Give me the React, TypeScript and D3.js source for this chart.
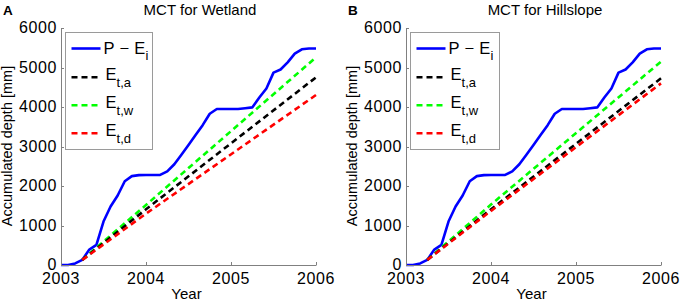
import React from 'react';
import * as d3 from 'd3';

// ---- data ----
const monthIndex = d3.range(37);
const pMinusEi = [0, 0, 40, 130, 390, 510, 1100, 1480, 1760, 2120, 2250, 2275, 2280, 2280, 2280, 2370, 2550, 2790, 3040, 3290, 3540, 3830, 3950, 3950, 3950, 3950, 3970, 3990, 4240, 4470, 4870, 4950, 5130, 5350, 5460, 5480, 5480];
const etYears = [2003.25, 2004, 2006];
const wetlandEtA = [130, 1410, 4750];
const wetlandEtW = [130, 1520, 5257];
const wetlandEtD = [130, 1300, 4304];
const hillEtA = [130, 1410, 4726];
const hillEtW = [130, 1530, 5148];
const hillEtD = [130, 1370, 4599];
const xTicks = [2003, 2004, 2005, 2006];
const yTicks = [0, 1000, 2000, 3000, 4000, 5000, 6000];

const FONT = '"Liberation Sans", Arial, Helvetica, sans-serif';

type PanelProps = {
  left: number;
  letter: string;
  title: string;
  titleX: number;
  etA: number[];
  etW: number[];
  etD: number[];
  legendW: number;
};

const TOP = 28;
const BOTTOM = 265;
const PW = 255;

function Panel({ left, letter, title, titleX, etA, etW, etD, legendW }: PanelProps) {
  const x = d3.scaleLinear().domain([2003, 2006]).range([left, left + PW]);
  const y = d3.scaleLinear().domain([0, 6000]).range([BOTTOM, TOP]);
  const line = d3.line<[number, number]>().x(d => x(d[0])).y(d => y(d[1]));
  const blue = line(monthIndex.map(i => [2003 + i / 12, pMinusEi[i]] as [number, number]));
  const mk = (vals: number[]) => line(etYears.map((t, i) => [t, vals[i]] as [number, number]));
  const dashes = [
    { d: mk(etW), c: '#00ff00' },
    { d: mk(etA), c: '#000000' },
    { d: mk(etD), c: '#ff0000' },
  ];
  const axisCol = '#808080';
  const lx = left + 4;
  const lsx1 = left + 10.5;
  const lsx2 = left + 39.5;
  const ltx = left + 42.5;
  const rows = [48.5, 77.3, 105.3, 133.3];
  const legendEntries = [
    { c: '#000000', main: 'E', sub: 't,a' },
    { c: '#00ff00', main: 'E', sub: 't,w' },
    { c: '#ff0000', main: 'E', sub: 't,d' },
  ];
  return (
    <g fontFamily={FONT}>
      <text x={left - 58} y={15} fontSize={13.5} fontWeight="bold">{letter}</text>
      <text x={titleX} y={15} fontSize={15} textAnchor="middle">{title}</text>
      {/* data */}
      <path d={blue || ''} fill="none" stroke="#0000ff" strokeWidth={2.6} strokeLinejoin="round" />
      {dashes.map((s, i) => (
        <path key={i} d={s.d || ''} fill="none" stroke={s.c} strokeWidth={2.6} strokeDasharray="6 4" />
      ))}
      {/* axes */}
      <line x1={left + 0.5} x2={left + 0.5} y1={TOP} y2={BOTTOM + 0.5} stroke={axisCol} strokeWidth={1} />
      <line x1={left} x2={left + PW + 0.5} y1={BOTTOM + 0.5} y2={BOTTOM + 0.5} stroke={axisCol} strokeWidth={1} />
      {yTicks.map(t => (
        <g key={t}>
          <line x1={left} x2={left + 3} y1={Math.round(y(t)) + 0.5} y2={Math.round(y(t)) + 0.5} stroke={axisCol} />
          <text x={left - 4} y={y(t)} dy="0.33em" fontSize={16} letterSpacing={0.6} textAnchor="end">{t}</text>
        </g>
      ))}
      {xTicks.map(t => (
        <g key={t}>
          <line x1={Math.round(x(t)) + 0.5} x2={Math.round(x(t)) + 0.5} y1={BOTTOM} y2={BOTTOM - 3} stroke={axisCol} />
          <text x={x(t)} y={283.5} fontSize={16} letterSpacing={0.6} textAnchor="middle">{t}</text>
        </g>
      ))}
      <text x={left + PW / 2 - 2} y={298.5} fontSize={15} textAnchor="middle">Year</text>
      <text transform={`translate(${left - 49},${146}) rotate(-90)`} fontSize={14.5} textAnchor="middle">Accumulated depth [mm]</text>
      {/* legend */}
      <rect x={lx + 0.5} y={32.5} width={legendW} height={117} fill="#ffffff" stroke="#9a9a9a" strokeWidth={1} />
      <line x1={lsx1} x2={lsx2} y1={rows[0]} y2={rows[0]} stroke="#0000ff" strokeWidth={2.6} />
      <text x={ltx} y={rows[0] + 5} fontSize={16.5} letterSpacing={0.3}>
        P − E<tspan fontSize={13} dy={6}>i</tspan>
      </text>
      {legendEntries.map((e, i) => (
        <g key={i}>
          <line x1={lsx1} x2={lsx2} y1={rows[i + 1]} y2={rows[i + 1]} stroke={e.c} strokeWidth={2.6} strokeDasharray="6 4" />
          <text x={ltx + 2} y={rows[i + 1] + 3} fontSize={16.5}>
            E<tspan fontSize={13} dy={7}>{e.sub}</tspan>
          </text>
        </g>
      ))}
    </g>
  );
}

export default function App() {
  return (
    <svg width={680} height={300} style={{ position: 'absolute', left: 0, top: 0, background: '#fff' }}>
      <rect x={0} y={0} width={680} height={300} fill="#fff" />
      <Panel left={61} letter="A" title="MCT for Wetland" titleX={200} etA={wetlandEtA} etW={wetlandEtW} etD={wetlandEtD} legendW={87} />
      <Panel left={406} letter="B" title="MCT for Hillslope" titleX={545} etA={hillEtA} etW={hillEtW} etD={hillEtD} legendW={89} />
    </svg>
  );
}
